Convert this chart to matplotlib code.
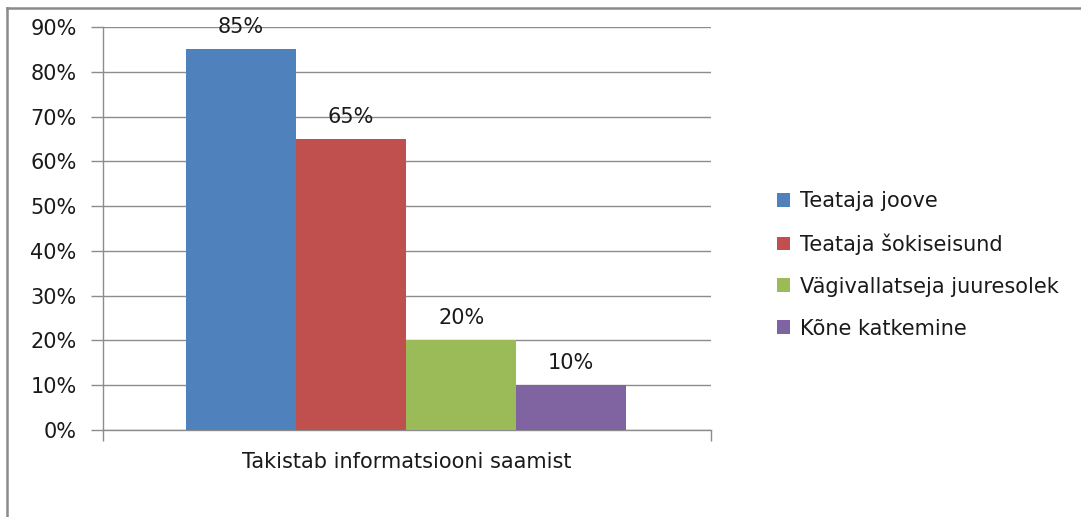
import matplotlib.pyplot as plt
from matplotlib.patches import Patch
from matplotlib.lines import Line2D
from matplotlib.ticker import FuncFormatter

plt.rcParams["font.family"] = ["DejaVu Sans"]

# Data
category = "Takistab informatsiooni saamist"
series = ["Teataja joove", "Teataja šokiseisund", "Vägivallatseja juuresolek", "Kõne katkemine"]
values = [85, 65, 20, 10]
colors = ["#4F81BD", "#C0504D", "#9BBB59", "#8064A2"]
y_ticks = [0, 10, 20, 30, 40, 50, 60, 70, 80, 90]

FS = 15
TXT = "#1a1a1a"

fig = plt.figure(figsize=(10.81, 5.17), dpi=100)
ax = fig.add_axes([103 / 1081, 87 / 517, 608 / 1081, 403 / 517])

positions = list(range(len(values)))
ax.bar(positions, values, width=1.0, color=colors, label=series, zorder=3)

for x, v in zip(positions, values):
    ax.annotate(f"{v}%", (x, v), xytext=(0, 16), textcoords="offset points",
                ha="center", va="center", fontsize=FS, color=TXT)

ax.set_xlim(-1.255, 4.27)
ax.set_ylim(0, 90)
ax.set_yticks(y_ticks)
ax.yaxis.set_major_formatter(FuncFormatter(lambda v, _: f"{int(v)}%"))
ax.grid(axis="y", color="#8c8c8c", linewidth=1.0, zorder=0)
ax.tick_params(axis="y", length=9, width=1, color="#8c8c8c", labelsize=FS,
               labelcolor=TXT, pad=10)
ax.set_xticks([ax.get_xlim()[0], ax.get_xlim()[1]])
ax.set_xticklabels(["", ""])
ax.tick_params(axis="x", length=8, width=1, color="#8c8c8c")
for s in ["top", "right"]:
    ax.spines[s].set_visible(False)
for s in ["left", "bottom"]:
    ax.spines[s].set_color("#8c8c8c")
    ax.spines[s].set_linewidth(1.0)

fig.text(407 / 1081, 1 - 462 / 517, category, ha="center", va="center",
         fontsize=FS, color=TXT)

handles = [Patch(facecolor=c, edgecolor="none") for c in colors]
fig.legend(handles, series, loc="center left", bbox_to_anchor=(758 / 1081, 1 - 265 / 517),
           frameon=False, fontsize=FS, handlelength=0.65, handleheight=0.65,
           handletextpad=0.45, labelspacing=1.05, labelcolor=TXT)

# outer chart frame (cropped at right and bottom)
fig.add_artist(Line2D([7 / 1081, 7 / 1081], [0, 1 - 8 / 517], color="#8a8a8a",
                      linewidth=1.8, transform=fig.transFigure))
fig.add_artist(Line2D([7 / 1081, 1], [1 - 8 / 517, 1 - 8 / 517], color="#8a8a8a",
                      linewidth=1.8, transform=fig.transFigure))

fig.savefig("out.png", dpi=100)
